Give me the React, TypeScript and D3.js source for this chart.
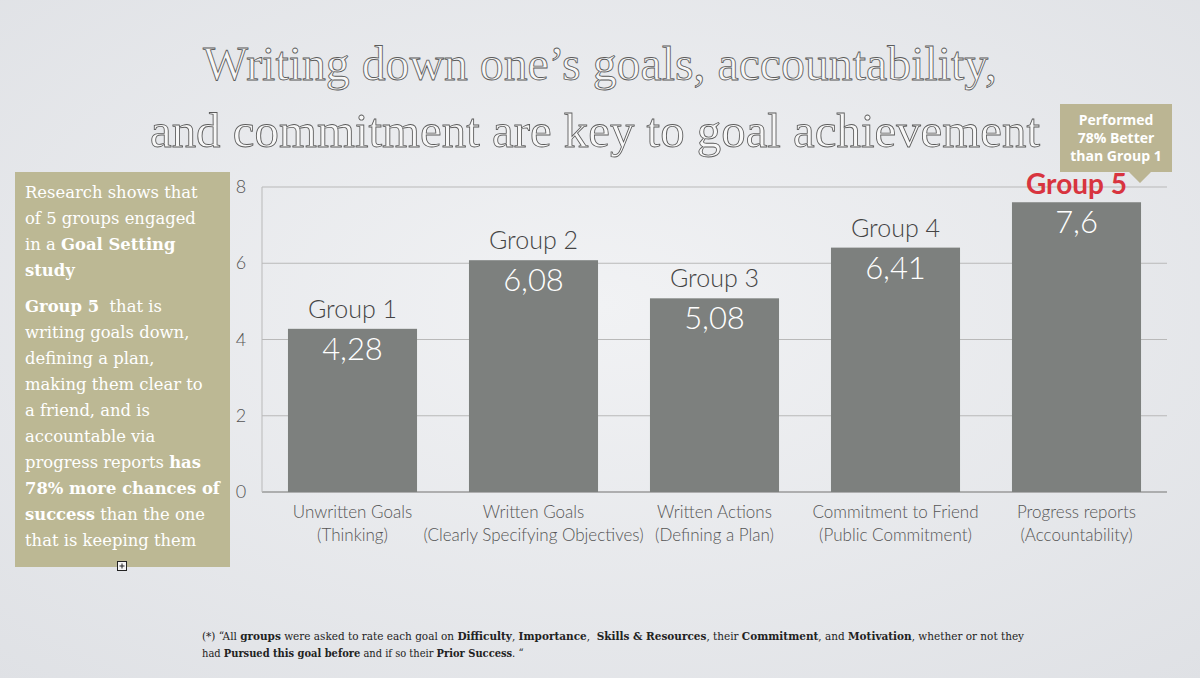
import React from "react";
import * as d3 from "d3";

const categories = ["Group 1", "Group 2", "Group 3", "Group 4", "Group 5"];
const values = [4.28, 6.08, 5.08, 6.41, 7.6];
const valueLabels = ["4,28", "6,08", "5,08", "6,41", "7,6"];
const axisLine1 = ["Unwritten Goals", "Written Goals", "Written Actions", "Commitment to Friend", "Progress reports"];
const axisLine2 = ["(Thinking)", "(Clearly Specifying Objectives)", "(Defining a Plan)", "(Public Commitment)", "(Accountability)"];
const yTicks = [0, 2, 4, 6, 8];
const titleLines = ["Writing down one’s goals, accountability,", "and commitment are key to goal achievement"];
const calloutLines = ["Performed", "78% Better", "than Group 1"];
// [text, bold]
const sideText: [string, boolean][][] = [
  [["Research shows that", false]],
  [["of 5 groups engaged", false]],
  [["in a ", false], ["Goal Setting", true]],
  [["study", true]],
  [["Group 5", true], ["  that is", false]],
  [["writing goals down,", false]],
  [["defining a plan,", false]],
  [["making them clear to", false]],
  [["a friend, and is", false]],
  [["accountable via", false]],
  [["progress reports ", false], ["has", true]],
  [["78% more chances of", true]],
  [["success", true], [" than the one", false]],
  [["that is keeping them", false]],
];
const footnote: [string, boolean][][] = [
  [
    ["(*) “All ", false], ["groups", true], [" were asked to rate each goal on ", false],
    ["Difficulty", true], [", ", false], ["Importance", true], [",  ", false],
    ["Skills & Resources", true], [", their ", false], ["Commitment", true],
    [", and ", false], ["Motivation", true], [", whether or not they", false],
  ],
  [
    ["had ", false], ["Pursued this goal before", true], [" and if so their ", false],
    ["Prior Success", true], [". “", false],
  ],
];

export default function App() {
  const W = 1200, H = 678;
  const x = d3.scaleBand<string>().domain(categories).range([262, 1167]).paddingInner(0.287).paddingOuter(0.1435);
  const y = d3.scaleLinear().domain([0, 8]).range([492, 187]);
  const sans = "Lato, 'Open Sans', sans-serif";
  const slab = "'DejaVu Serif', serif";
  const sideBaselines = [198, 224, 250, 276, 312, 338, 364, 390, 416, 442, 468, 494, 520, 546];

  return (
    <svg width={W} height={H} style={{ position: "absolute", left: 0, top: 0, display: "block" }}>
      <defs>
        <radialGradient id="bg" cx="50%" cy="45%" r="75%">
          <stop offset="0%" stopColor="#f1f2f4" />
          <stop offset="100%" stopColor="#dfe1e5" />
        </radialGradient>
      </defs>
      <rect width={W} height={H} fill="url(#bg)" />

      {/* Title */}
      {titleLines.map((t, i) => (
        <text
          key={i}
          x={i === 0 ? 203 : 150}
          y={i === 0 ? 80 : 147}
          textLength={i === 0 ? 794 : 890}
          lengthAdjust="spacingAndGlyphs"
          fontFamily="Liberation Serif"
          fontSize={48}
          fill="#f7f7f7"
          stroke="#5c5c5c"
          strokeWidth={0.85}
        >
          {t}
        </text>
      ))}

      {/* Gridlines */}
      {yTicks.map((t) => (
        <line key={t} x1={262} x2={1167} y1={y(t)} y2={y(t)} stroke={t === 0 ? "#9a9a9a" : "#b9b9b9"} strokeWidth={t === 0 ? 1.5 : 1} />
      ))}
      <line x1={262} x2={262} y1={y(8)} y2={y(0)} stroke="#b9b9b9" strokeWidth={1} />
      {yTicks.map((t) => (
        <text key={"yl" + t} x={241} y={y(t) + 6} textAnchor="middle" fontFamily={sans} fontWeight={300} fontSize={18} fill="#555">
          {t}
        </text>
      ))}

      {/* Bars */}
      {categories.map((c, i) => {
        const bx = x(c)!;
        const bw = x.bandwidth();
        const top = y(values[i]);
        const cx = bx + bw / 2;
        const last = i === categories.length - 1;
        return (
          <g key={c}>
            <rect x={bx} y={top} width={bw} height={y(0) - top} fill="#7d807e" />
            <text x={cx} y={top + 31} textAnchor="middle" fontFamily={sans} fontWeight={300} fontSize={31} fill="#ffffff">
              {valueLabels[i]}
            </text>
            <text
              x={cx}
              y={last ? top - 8 : top - 11}
              textAnchor="middle"
              fontFamily={sans}
              fontWeight={last ? 700 : 300}
              fontSize={last ? 28 : 25}
              fill={last ? "#d8343f" : "#444"}
            >
              {c}
            </text>
            <text x={cx} y={518} textAnchor="middle" fontFamily={sans} fontWeight={300} fontSize={17} fill="#555">
              {axisLine1[i]}
            </text>
            <text x={cx} y={541} textAnchor="middle" fontFamily={sans} fontWeight={300} fontSize={17} fill="#555">
              {axisLine2[i]}
            </text>
          </g>
        );
      })}

      {/* Callout */}
      <path d="M1060,104 H1172 V172 H1151 L1140,183 L1129,172 H1060 Z" fill="#bbb593" />
      {calloutLines.map((t, i) => (
        <text key={t} x={1116} y={125 + i * 18} textAnchor="middle" fontFamily="'Open Sans', sans-serif" fontWeight={700} fontSize={14} fill="#ffffff">
          {t}
        </text>
      ))}

      {/* Side box */}
      <rect x={15} y={172} width={215} height={395} fill="#bcb894" />
      {sideText.map((line, i) => (
        <text key={i} x={25} y={sideBaselines[i]} fontFamily={slab} fontSize={16.4} fill="#ffffff" style={{ whiteSpace: "pre" }}>
          {line.map(([s, b], j) => (
            <tspan key={j} fontWeight={b ? 700 : 400}>{s}</tspan>
          ))}
        </text>
      ))}
      <rect x={117.5} y={561.5} width={9} height={9} fill="#f4f4f4" stroke="#222" strokeWidth={1} />
      <line x1={119.5} x2={124.5} y1={566} y2={566} stroke="#222" />
      <line x1={122} x2={122} y1={563.5} y2={568.5} stroke="#222" />

      {/* Footnote */}
      {footnote.map((line, i) => (
        <text
          key={i}
          x={202}
          y={640 + i * 17}
          fontFamily="'DejaVu Serif Condensed', 'DejaVu Serif', serif"
          fontSize={11}
          fill="#222"
          style={{ whiteSpace: "pre" }}
          {...(i === 0 ? { textLength: 822, lengthAdjust: "spacingAndGlyphs" } : {})}
        >
          {line.map(([s, b], j) => (
            <tspan key={j} fontWeight={b ? 700 : 400}>{s}</tspan>
          ))}
        </text>
      ))}
    </svg>
  );
}
